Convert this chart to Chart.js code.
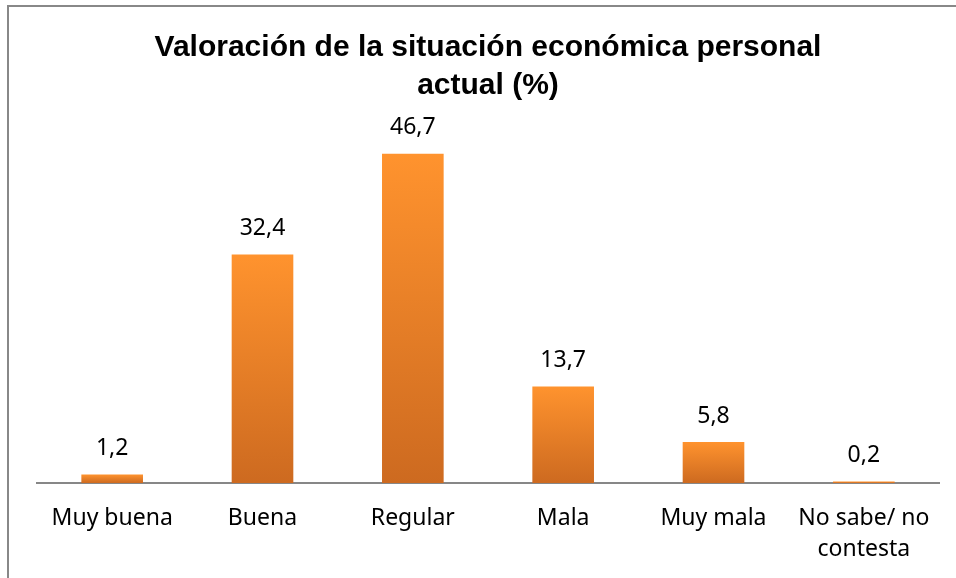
<!DOCTYPE html>
<html>
<head>
<meta charset="utf-8">
<script src="https://cdn.jsdelivr.net/npm/chart.js@4"></script>
<style>
  html, body { margin: 0; padding: 0; background: #fff; }
  #wrap { width: 956px; height: 578px; position: relative; }
</style>
</head>
<body>
<div id="wrap"><canvas id="valoracion"></canvas></div>
<script>
const categories = ['Muy buena', 'Buena', 'Regular', 'Mala', 'Muy mala', ['No sabe/ no', 'contesta']];
const values = [1.2, 32.4, 46.7, 13.7, 5.8, 0.2];
const valueLabels = ['1,2', '32,4', '46,7', '13,7', '5,8', '0,2'];

// gradient per bar, light on top, darker at the base
function barGradient(ctx) {
  const chart = ctx.chart;
  const y = chart.scales && chart.scales.y;
  if (!chart.chartArea || !y || ctx.type !== 'data') return '#f08a2a';
  const top = y.getPixelForValue(ctx.raw);
  const base = y.getPixelForValue(0);
  if (!isFinite(top) || base - top < 1) return '#f7b987';
  const g = chart.ctx.createLinearGradient(0, top, 0, base);
  g.addColorStop(0, '#ff932e');
  g.addColorStop(1, '#cd6a20');
  return g;
}

const frame = {
  id: 'frame',
  beforeDraw(chart) {
    const c = chart.ctx;
    c.save();
    c.fillStyle = '#ffffff';
    c.fillRect(0, 0, chart.width, chart.height);
    c.strokeStyle = '#888888';
    c.lineWidth = 2;
    c.beginPath();
    c.moveTo(8, chart.height);
    c.lineTo(8, 6);
    c.lineTo(chart.width, 6);
    c.stroke();
    c.restore();
  }
};

const valueText = {
  id: 'valueText',
  afterDatasetsDraw(chart) {
    const c = chart.ctx;
    const meta = chart.getDatasetMeta(0);
    c.save();
    c.font = '23px "Noto Sans"';
    c.fillStyle = '#000';
    c.textAlign = 'center';
    c.textBaseline = 'middle';
    meta.data.forEach((bar, i) => {
      c.fillText(valueLabels[i], bar.x, bar.y - 26);
    });
    c.restore();
  }
};

new Chart(document.getElementById('valoracion'), {
  type: 'bar',
  data: {
    labels: categories,
    datasets: [{
      data: values,
      backgroundColor: barGradient,
      borderWidth: 0,
      barPercentage: 0.41,
      categoryPercentage: 1
    }]
  },
  options: {
    responsive: true,
    maintainAspectRatio: false,
    animation: false,
    layout: { padding: { left: 37, right: 17, top: 5, bottom: 0 } },
    plugins: {
      legend: { display: false },
      tooltip: { enabled: false },
      title: {
        display: true,
        text: ['Valoración de la situación económica personal', 'actual (%)'],
        color: '#000',
        font: { family: '"Liberation Sans", Arial, sans-serif', size: 30, weight: 'bold', lineHeight: 1.26 },
        padding: { top: 24, bottom: 28 }
      }
    },
    scales: {
      x: {
        grid: { display: false, drawTicks: false },
        border: { display: true, color: '#878787', width: 2 },
        ticks: {
          color: '#000',
          font: { family: '"Noto Sans", sans-serif', size: 23, lineHeight: 1.35 },
          padding: 20,
          maxRotation: 0,
          autoSkip: false
        },
        afterFit(scale) { scale.height = 95; }
      },
      y: {
        display: false,
        min: 0,
        max: 49.7
      }
    }
  },
  plugins: [frame, valueText]
});
</script>
</body>
</html>
